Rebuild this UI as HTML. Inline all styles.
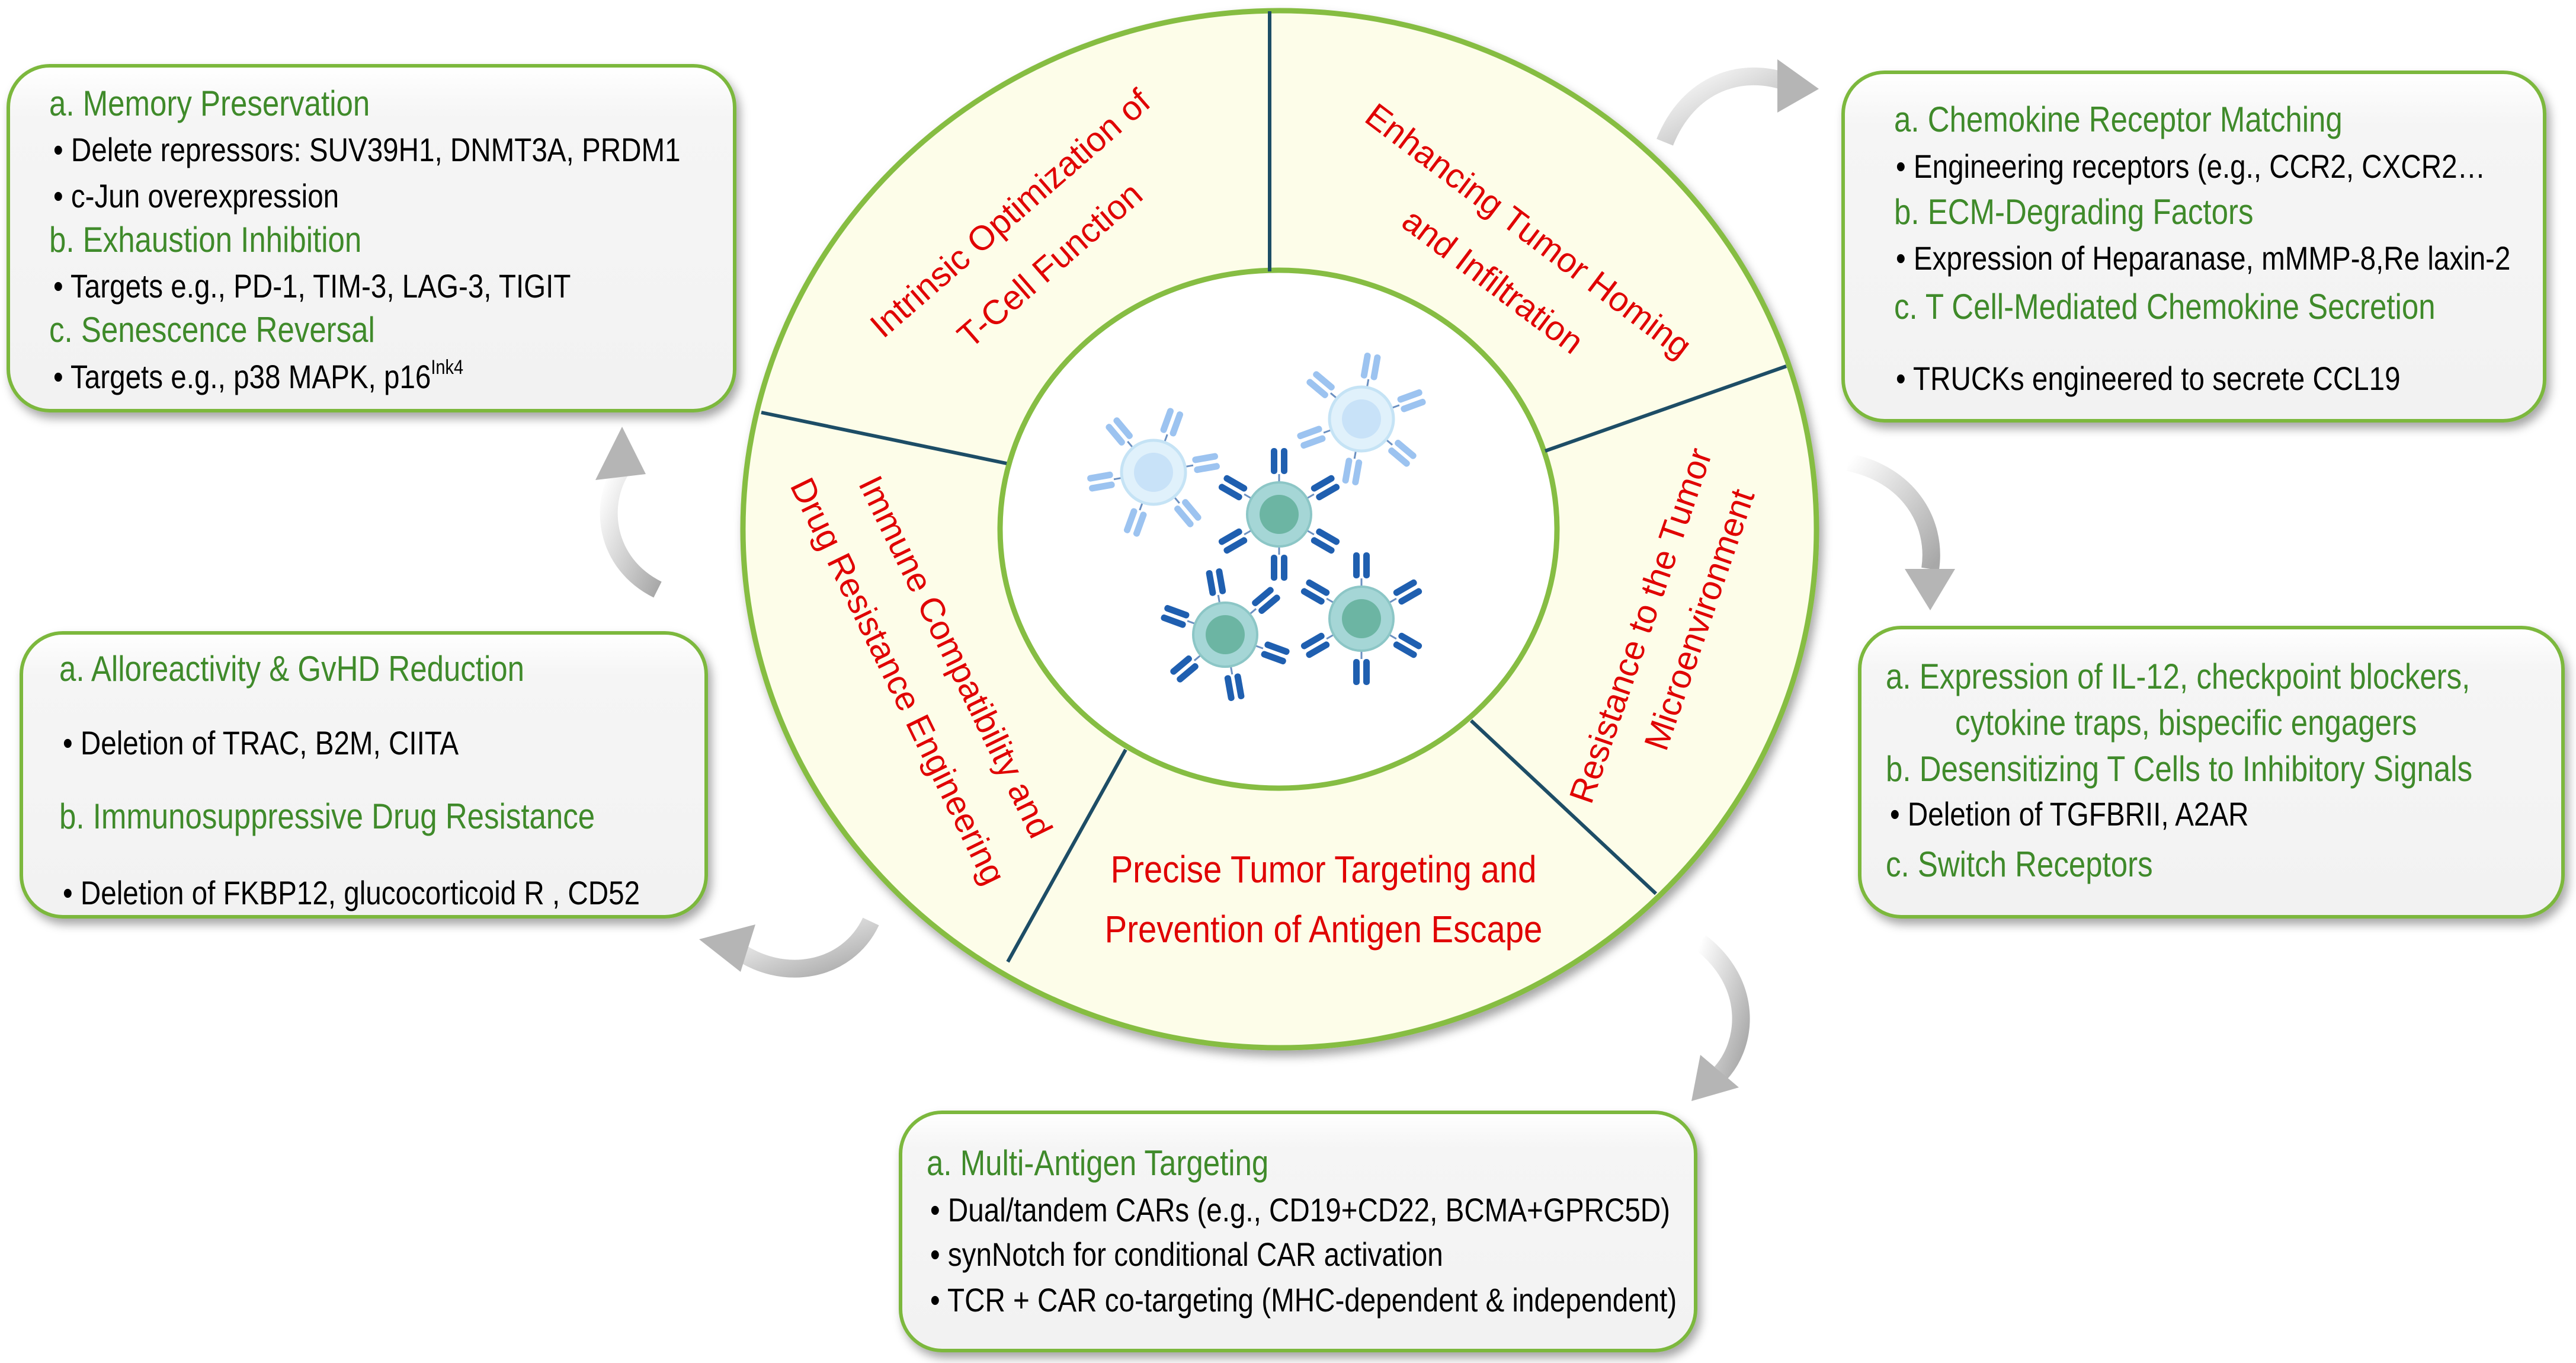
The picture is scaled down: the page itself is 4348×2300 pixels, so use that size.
<!DOCTYPE html>
<html><head><meta charset="utf-8">
<style>
html,body{margin:0;padding:0;background:#fff;}
svg{display:block;}
.h{fill:#3f8a2a;font-family:"Liberation Sans",sans-serif;font-size:60px;}
.b{fill:#000;font-family:"Liberation Sans",sans-serif;font-size:56px;}
.r{fill:#e00000;font-family:"Liberation Sans",sans-serif;font-size:58px;}
</style></head>
<body>
<svg width="4348" height="2300" viewBox="0 0 4348 2300" xmlns="http://www.w3.org/2000/svg">
<defs>
<linearGradient id="bx" x1="0" y1="0" x2="0" y2="1">
<stop offset="0" stop-color="#ffffff"/><stop offset="0.15" stop-color="#f5f5f5"/><stop offset="1" stop-color="#f2f2f2"/>
</linearGradient>
<linearGradient id="ag" x1="0" y1="0" x2="1" y2="1">
<stop offset="0" stop-color="#ffffff"/><stop offset="1" stop-color="#a8a8a8"/>
</linearGradient>
<filter id="sh" x="-5%" y="-5%" width="110%" height="115%"><feDropShadow dx="6" dy="10" stdDeviation="8" flood-color="#000" flood-opacity="0.35"/></filter>
<g id="ab">
<line x1="0" y1="0" x2="0" y2="-18" stroke="#6a8fc0" stroke-width="3"/>
<rect x="-14" y="-62" width="11" height="44" rx="5"/>
<rect x="3" y="-62" width="11" height="44" rx="5"/>
</g>
<g id="abs">
<use href="#ab" transform="rotate(0) translate(0,-50)"/>
<use href="#ab" transform="rotate(60) translate(0,-50)"/>
<use href="#ab" transform="rotate(120) translate(0,-50)"/>
<use href="#ab" transform="rotate(180) translate(0,-50)"/>
<use href="#ab" transform="rotate(240) translate(0,-50)"/>
<use href="#ab" transform="rotate(300) translate(0,-50)"/>
</g>
</defs>

<!-- ring -->
<ellipse cx="2160" cy="893" rx="906" ry="875" fill="#fdfde9" stroke="#86bd43" stroke-width="9" filter="url(#sh)"/>
<ellipse cx="2158" cy="893" rx="470" ry="437" fill="#ffffff" stroke="#86bd43" stroke-width="9"/>
<g stroke="#1d4d66" stroke-width="6">
<line x1="2143" y1="19" x2="2143" y2="458"/>
<line x1="3015" y1="618" x2="2608" y2="761"/>
<line x1="1285" y1="696" x2="1699" y2="782"/>
<line x1="1900" y1="1265" x2="1701" y2="1623"/>
<line x1="2483" y1="1216" x2="2795" y2="1508"/>
</g>

<!-- ring labels -->
<text class="r" text-anchor="middle" transform="translate(1718,375) rotate(-41)">Intrinsic Optimization of</text>
<text class="r" text-anchor="middle" transform="translate(1785,462) rotate(-41)">T-Cell Function</text>
<text class="r" text-anchor="middle" transform="translate(2568,405) rotate(37)">Enhancing Tumor Homing</text>
<text class="r" text-anchor="middle" transform="translate(2508,490) rotate(37)">and Infiltration</text>
<text class="r" text-anchor="middle" transform="translate(2788,1062) rotate(-71)">Resistance to the Tumor</text>
<text class="r" text-anchor="middle" transform="translate(2887,1052) rotate(-71)">Microenvironment</text>
<text class="r" text-anchor="middle" transform="translate(1595,1117) rotate(64)">Immune Compatibility and</text>
<text class="r" text-anchor="middle" transform="translate(1498,1158) rotate(64)">Drug Resistance Engineering</text>
<text class="r" text-anchor="middle" style="font-size:64px" transform="translate(2234,1489) scale(0.88,1)">Precise Tumor Targeting and</text>
<text class="r" text-anchor="middle" style="font-size:64px" transform="translate(2234,1590) scale(0.88,1)">Prevention of Antigen Escape</text>

<!-- cells -->
<g transform="translate(1947,797)"><use href="#abs" fill="#9cc3f0" transform="rotate(20)"/><circle r="54" fill="#e0f1fb" stroke="#c5e3f5" stroke-width="5"/><circle r="33" fill="#c8e2f8"/></g>
<g transform="translate(2298,707)"><use href="#abs" fill="#9cc3f0" transform="rotate(10)"/><circle r="54" fill="#e0f1fb" stroke="#c5e3f5" stroke-width="5"/><circle r="33" fill="#c8e2f8"/></g>
<g transform="translate(2159,868)"><use href="#abs" fill="#1f5fb0"/><circle r="54" fill="#a5d6d6" stroke="#8cc6c6" stroke-width="4"/><circle r="33" fill="#6cb5a3"/></g>
<g transform="translate(2068,1071)"><use href="#abs" fill="#1f5fb0" transform="rotate(-10)"/><circle r="54" fill="#a5d6d6" stroke="#8cc6c6" stroke-width="4"/><circle r="33" fill="#6cb5a3"/></g>
<g transform="translate(2298,1044)"><use href="#abs" fill="#1f5fb0"/><circle r="54" fill="#a5d6d6" stroke="#8cc6c6" stroke-width="4"/><circle r="33" fill="#6cb5a3"/></g>

<!-- curved arrows -->
<g fill="none" stroke="url(#ag)" stroke-width="30" stroke-linecap="butt">
<path d="M2810,240 C2850,140 2940,110 3020,140"/>
<path d="M3120,780 C3220,800 3270,880 3258,960"/>
<path d="M2870,1590 C2960,1660 2950,1760 2905,1810"/>
<path d="M1470,1555 C1430,1640 1320,1660 1240,1600"/>
<path d="M1110,995 C1020,950 1010,850 1050,790"/>
</g>
<g fill="#b5b5b5">
<polygon points="3000,100 3070,150 3000,190"/>
<polygon points="3215,960 3300,960 3258,1030"/>
<polygon points="2870,1780 2935,1835 2855,1858"/>
<polygon points="1275,1560 1250,1640 1180,1585"/>
<polygon points="1005,810 1090,800 1050,720"/>
</g>

<!-- boxes -->
<g stroke="#7cb83e" stroke-width="6" fill="url(#bx)" filter="url(#sh)">
<rect x="14" y="111" width="1226" height="582" rx="70"/>
<rect x="3111" y="122" width="1184" height="588" rx="70"/>
<rect x="3139" y="1059" width="1187" height="488" rx="70"/>
<rect x="36" y="1068" width="1156" height="479" rx="70"/>
<rect x="1520" y="1877" width="1342" height="402" rx="70"/>
</g>

<!-- box1 -->
<text class="h" transform="translate(83,195) scale(0.85,1)">a. Memory Preservation</text>
<text class="b" transform="translate(90,272) scale(0.85,1)">• Delete repressors: SUV39H1, DNMT3A, PRDM1</text>
<text class="b" transform="translate(90,350) scale(0.85,1)">• c-Jun overexpression</text>
<text class="h" transform="translate(83,425) scale(0.85,1)">b. Exhaustion Inhibition</text>
<text class="b" transform="translate(90,502) scale(0.85,1)">• Targets e.g., PD-1, TIM-3, LAG-3, TIGIT</text>
<text class="h" transform="translate(83,577) scale(0.85,1)">c. Senescence Reversal</text>
<text class="b" transform="translate(90,655) scale(0.85,1)">• Targets e.g., p38 MAPK, p16<tspan font-size="34" dy="-24">Ink4</tspan></text>

<!-- box2 -->
<text class="h" transform="translate(3197,222) scale(0.85,1)">a. Chemokine Receptor Matching</text>
<text class="b" transform="translate(3200,300) scale(0.85,1)">• Engineering receptors (e.g., CCR2, CXCR2…</text>
<text class="h" transform="translate(3197,378) scale(0.85,1)">b. ECM-Degrading Factors</text>
<text class="b" transform="translate(3200,455) scale(0.85,1)">• Expression of Heparanase, mMMP-8,Re laxin-2</text>
<text class="h" transform="translate(3197,538) scale(0.85,1)">c. T Cell-Mediated Chemokine Secretion</text>
<text class="b" transform="translate(3200,658) scale(0.85,1)">• TRUCKs engineered to secrete CCL19</text>

<!-- box3 -->
<text class="h" transform="translate(3183,1162) scale(0.85,1)">a. Expression of IL-12, checkpoint blockers,</text>
<text class="h" transform="translate(3300,1240) scale(0.85,1)">cytokine traps, bispecific engagers</text>
<text class="h" transform="translate(3183,1318) scale(0.85,1)">b. Desensitizing T Cells to Inhibitory Signals</text>
<text class="b" transform="translate(3190,1393) scale(0.85,1)">• Deletion of TGFBRII, A2AR</text>
<text class="h" transform="translate(3183,1479) scale(0.85,1)">c. Switch Receptors</text>

<!-- box4 -->
<text class="h" transform="translate(100,1149) scale(0.85,1)">a. Alloreactivity &amp; GvHD Reduction</text>
<text class="b" transform="translate(106,1273) scale(0.85,1)">• Deletion of TRAC, B2M, CIITA</text>
<text class="h" transform="translate(100,1398) scale(0.85,1)">b. Immunosuppressive Drug Resistance</text>
<text class="b" transform="translate(106,1526) scale(0.85,1)">• Deletion of  FKBP12, glucocorticoid R , CD52</text>

<!-- box5 -->
<text class="h" transform="translate(1564,1983) scale(0.85,1)">a. Multi-Antigen Targeting</text>
<text class="b" transform="translate(1570,2061) scale(0.85,1)">• Dual/tandem CARs (e.g., CD19+CD22, BCMA+GPRC5D)</text>
<text class="b" transform="translate(1570,2136) scale(0.85,1)">• synNotch for conditional CAR activation</text>
<text class="b" transform="translate(1570,2213) scale(0.85,1)">• TCR + CAR co-targeting (MHC-dependent &amp; independent)</text>
</svg>
</body></html>
